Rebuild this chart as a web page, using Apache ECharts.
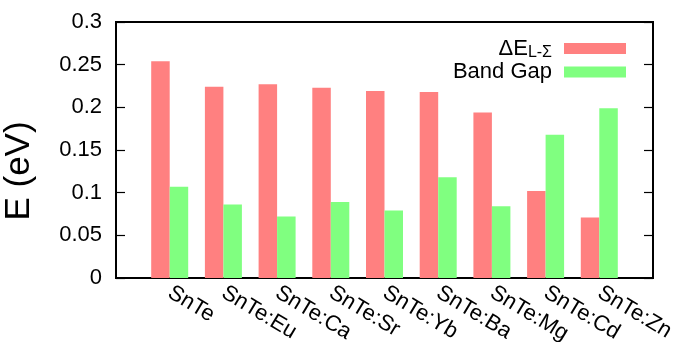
<!DOCTYPE html>
<html>
<head>
<meta charset="utf-8">
<script src="https://cdn.jsdelivr.net/npm/echarts@6/dist/echarts.min.js"></script>
<style>
  html, body { margin: 0; padding: 0; background: #fff; }
  #chart { width: 675px; height: 342px; }
</style>
</head>
<body>
<div id="chart"></div>
<script>
// Compounds, one cluster each (placed at x = 0..8 on the value axis)
const categories = ['SnTe', 'SnTe:Eu', 'SnTe:Ca', 'SnTe:Sr', 'SnTe:Yb', 'SnTe:Ba', 'SnTe:Mg', 'SnTe:Cd', 'SnTe:Zn'];
// L-Sigma valence band offset (eV)
const deltaELS = [0.254, 0.224, 0.227, 0.223, 0.219, 0.218, 0.194, 0.102, 0.071];
// Band gap (eV)
const bandGap = [0.107, 0.086, 0.072, 0.089, 0.079, 0.118, 0.084, 0.168, 0.199];
// Y axis tick values
const yTicks = [0, 0.05, 0.1, 0.15, 0.2, 0.25, 0.3];

const FONT = '"Liberation Sans", Arial, sans-serif';
const yMin = yTicks[0], yMax = yTicks[yTicks.length - 1], yStep = yTicks[1] - yTicks[0];

const chart = echarts.init(document.getElementById('chart'), null, { renderer: 'canvas' });

const yAxisBase = {
  type: 'value', min: yMin, max: yMax, interval: yStep,
  splitLine: { show: false },
  axisLine: { show: true, onZero: false, lineStyle: { color: '#000', width: 2 } },
  axisTick: { show: true, inside: true, length: 9, lineStyle: { color: '#000', width: 1.2 } }
};

chart.setOption({
  animation: false,
  textStyle: { fontFamily: FONT },
  grid: {
    left: 116, right: 22, top: 22, bottom: 64,
    containLabel: false, outerBoundsMode: 'none',
    show: true, borderColor: '#000', borderWidth: 2, backgroundColor: 'transparent'
  },
  legend: {
    orient: 'vertical', right: 44, top: 31,
    align: 'right', icon: 'rect', itemWidth: 62, itemHeight: 11, itemGap: 0,
    textStyle: {
      fontFamily: FONT, fontSize: 22, color: '#000', lineHeight: 22, padding: [0, 7, 0, 0],
      rich: {
        m: { fontFamily: FONT, fontSize: 22, color: '#000', lineHeight: 22 },
        s: { fontFamily: FONT, fontSize: 16, color: '#000', lineHeight: 22, padding: [9, 0, 0, 0] }
      }
    },
    formatter: function (name) {
      if (name === 'dE') return '{m|ΔE}{s|L-Σ}';
      return '{m|' + name + '}';
    },
    data: ['dE', 'Band Gap']
  },
  xAxis: {
    type: 'value', min: -1, max: categories.length, interval: 1,
    splitLine: { show: false },
    axisLine: { show: true, onZero: false, lineStyle: { color: '#000', width: 2 } },
    axisTick: { show: false },
    axisLabel: {
      rotate: -31, margin: 13, fontSize: 22, color: '#000', fontFamily: FONT,
      formatter: function (v) { return categories[v] || ''; }
    }
  },
  yAxis: [
    Object.assign({}, yAxisBase, {
      position: 'left',
      name: 'E (eV)', nameLocation: 'middle', nameRotate: 90, nameGap: 79,
      nameTextStyle: { fontSize: 35, color: '#000', fontFamily: FONT, padding: [0, 42, 0, 0] },
      axisLabel: { show: true, margin: 14, fontSize: 22, color: '#000', fontFamily: FONT }
    }),
    Object.assign({}, yAxisBase, {
      position: 'right',
      axisLabel: { show: false }
    })
  ],
  series: [
    {
      name: 'dE', type: 'bar', barWidth: 18.5, barGap: '0%',
      itemStyle: { color: '#ff8080' },
      data: deltaELS.map((v, i) => [i, v])
    },
    {
      name: 'Band Gap', type: 'bar', barWidth: 18.5, barGap: '0%',
      itemStyle: { color: '#80ff80' },
      data: bandGap.map((v, i) => [i, v])
    }
  ]
});
</script>
</body>
</html>
